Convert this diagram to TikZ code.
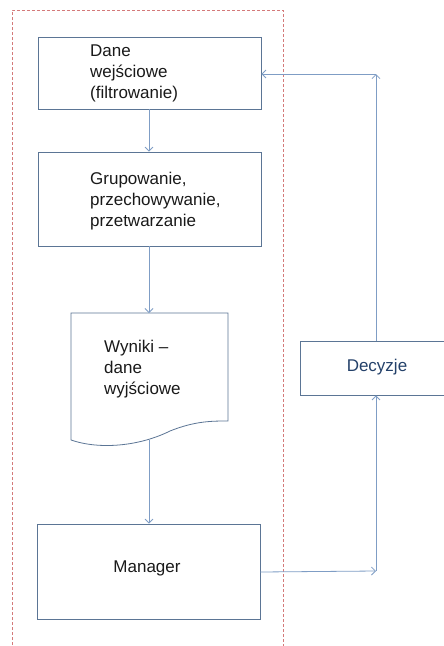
\documentclass[tikz,border=0pt]{standalone}
\usepackage{fontspec}
\setmainfont{Liberation Sans}
\usetikzlibrary{arrows.meta}
\definecolor{boxline}{HTML}{5B7595}
\definecolor{arrowc}{HTML}{7F9DC5}
\definecolor{redd}{HTML}{D47A7A}
\definecolor{txt}{HTML}{1A1A1A}
\definecolor{dectxt}{HTML}{24416A}
\begin{document}
\begin{tikzpicture}[x=1pt,y=-1pt,
  box/.style={draw=boxline,line width=0.8pt,fill=white,inner sep=0pt},
  lbl/.style={font=\fontsize{17}{21}\selectfont,text=txt,align=left,inner sep=0pt},
  conn/.style={draw=arrowc,line width=0.8pt,-{Straight Barb[length=4pt,width=8pt]}},
  plain/.style={draw=arrowc,line width=0.8pt}]
\useasboundingbox (0,0) rectangle (444,646);
\fill[white] (0,0) rectangle (444,646);
% dashed frame
\draw[redd,line width=0.8pt,dash pattern=on 3pt off 2pt] (12,660) -- (12,10) -- (283,10) -- (283,660);
% boxes
\node[box,minimum width=223pt,minimum height=72pt] (dane) at (149.5,73) {};
\node[lbl,anchor=west] (danet) at (90,73.5) {Dane\\wejściowe\\(filtrowanie)};
\node[box,minimum width=223pt,minimum height=94pt] (grup) at (149.5,199) {};
\node[lbl,anchor=west] (grupt) at (90,201) {Grupowanie,\\przechowywanie,\\przetwarzanie};
% document shape
\draw[boxline,line width=0.8pt,fill=white] (71,440) -- (71,313) -- (228,313) -- (228,421)
  .. controls (212,421) and (195,421) .. (170,431)
  .. controls (140,446) and (100,450) .. (71,440);
\coordinate (doctop) at (149,313);
\coordinate (docbot) at (149,440);
\node[lbl,anchor=west] (wynt) at (104,369) {Wyniki --\\dane\\wyjściowe};
\node[box,minimum width=223pt,minimum height=95pt] (man) at (148.5,571.5) {};
\node[lbl] (mant) at (147,568) {Manager};
\node[box,minimum width=148pt,minimum height=54pt] (dec) at (374,368) {};
\node[lbl,text=dectxt] (dect) at (377,367) {Decyzje};
% connectors
\coordinate (c1) at (376,571);
\coordinate (c2) at (376,74);
\draw[conn] (dane.south -| 149,0) -- (grup.north -| 149,0);
\draw[conn] (grup.south -| 149,0) -- (doctop);
\draw[conn] (docbot) -- (man.north -| 149,0);
\draw[conn] (man.east |- 0,572) -- (c1);
\draw[conn] (c1) -- (dec.south -| c1);
\draw[conn] (dec.north -| c2) -- (c2);
\draw[conn] (c2) -- (dane.east |- c2);
\end{tikzpicture}
\end{document}
